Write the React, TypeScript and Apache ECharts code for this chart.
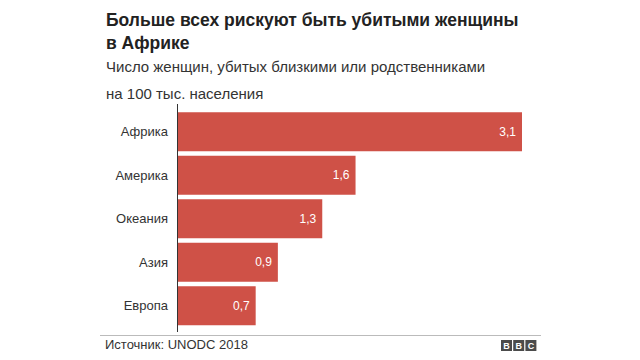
import React, { useEffect, useRef } from "react";
import * as echarts from "echarts";

const categories = ["Африка", "Америка", "Океания", "Азия", "Европа"];
const values = [3.1, 1.6, 1.3, 0.9, 0.7];

const titleLines = ["Больше всех рискуют быть убитыми женщины", "в Африке"];
const subtitleLines = ["Число женщин, убитых близкими или родственниками", "на 100 тыс. населения"];
const sourceText = "Источник: UNODC 2018";

const FONT = "'Liberation Sans', Arial, Helvetica, sans-serif";

export default function App() {
  const ref = useRef<HTMLDivElement>(null);
  useEffect(() => {
    if (!ref.current) return;
    const chart = echarts.init(ref.current, null, { renderer: "svg" });
    const bbcBoxes = ["B", "B", "C"].map((ch, i) => ({
      type: "group",
      x: 501 + i * 12.2,
      y: 340,
      children: [
        { type: "rect", shape: { x: 0, y: 0, width: 11, height: 11 }, style: { fill: "#4b4b4b" } },
        {
          type: "text",
          x: 5.5,
          y: 6,
          style: { text: ch, fill: "#ffffff", font: `bold 9px ${FONT}`, align: "center", verticalAlign: "middle" },
        },
      ],
    }));
    chart.setOption({
      animation: false,
      backgroundColor: "#ffffff",
      graphic: [
        {
          type: "text",
          left: 106,
          top: 11,
          style: { text: titleLines[0], fill: "#222222", font: `bold 17.5px ${FONT}` },
        },
        {
          type: "text",
          left: 106,
          top: 34,
          style: { text: titleLines[1], fill: "#222222", font: `bold 17.5px ${FONT}` },
        },
        {
          type: "text",
          left: 106,
          top: 59,
          style: { text: subtitleLines[0], fill: "#333333", font: `15px ${FONT}` },
        },
        {
          type: "text",
          left: 106,
          top: 86,
          style: { text: subtitleLines[1], fill: "#333333", font: `15px ${FONT}` },
        },
        {
          type: "line",
          shape: { x1: 177.5, y1: 104, x2: 177.5, y2: 332 },
          style: { stroke: "#333333", lineWidth: 1 },
        },
        {
          type: "line",
          shape: { x1: 100, y1: 335.5, x2: 541, y2: 335.5 },
          style: { stroke: "#bbbbbb", lineWidth: 1 },
        },
        {
          type: "text",
          left: 105,
          top: 338,
          style: { text: sourceText, fill: "#333333", font: `13px ${FONT}` },
        },
        ...bbcBoxes,
      ],
      grid: { left: 178, top: 110, width: 344, height: 217.5, containLabel: false },
      xAxis: {
        type: "value",
        min: 0,
        max: 3.1,
        show: false,
      },
      yAxis: {
        type: "category",
        data: categories,
        inverse: true,
        axisLine: { show: false },
        axisTick: { show: false },
        axisLabel: { margin: 10, color: "#333333", fontSize: 13, fontFamily: FONT },
      },
      series: [
        {
          type: "bar",
          data: values,
          barCategoryGap: "10%",
          itemStyle: { color: "#cf5147" },
          label: {
            show: true,
            position: "insideRight",
            distance: 6,
            color: "#ffffff",
            fontSize: 12,
            fontFamily: FONT,
            formatter: (p: any) => String(p.value).replace(".", ","),
          },
        },
      ],
    });
    return () => chart.dispose();
  }, []);
  return <div ref={ref} style={{ width: 640, height: 360, position: "absolute", left: 0, top: 0 }} />;
}
